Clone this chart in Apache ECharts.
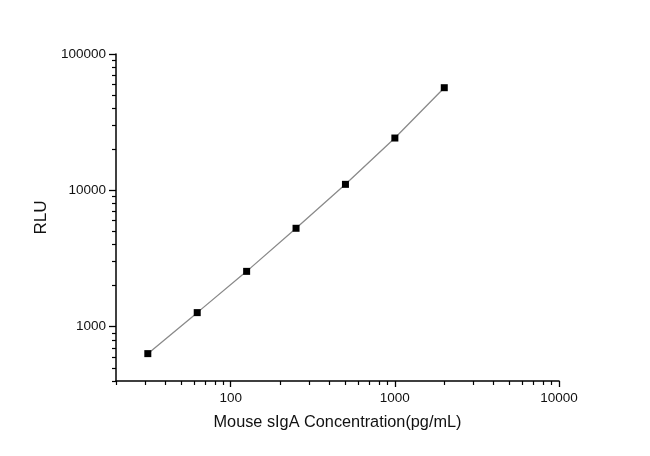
<!DOCTYPE html>
<html>
<head>
<meta charset="utf-8">
<script src="https://cdn.jsdelivr.net/npm/echarts@6/dist/echarts.min.js"></script>
<style>html,body{margin:0;padding:0;background:#fff}#c{width:650px;height:456px}</style>
</head>
<body>
<div id="c"></div>
<script>
const concentrations = [31.25, 62.5, 125, 250, 500, 1000, 2000];
const rluValues = [635, 1269, 2547, 5272, 11070, 24200, 56600];
const xMajorTicks = [100, 1000, 10000];
const xMinorTicks = [20, 30, 40, 50, 60, 70, 80, 90, 200, 300, 400, 500, 600, 700, 800, 900, 2000, 3000, 4000, 5000, 6000, 7000, 8000, 9000];
const yMajorTicks = [1000, 10000, 100000];
const yMinorTicks = [400, 500, 600, 700, 800, 900, 2000, 3000, 4000, 5000, 6000, 7000, 8000, 9000, 20000, 30000, 40000, 50000, 60000, 70000, 80000, 90000];
const xTitle = 'Mouse sIgA Concentration(pg/mL)';
const yTitle = 'RLU';

const font = '"Liberation Sans", Arial, sans-serif';
const chart = echarts.init(document.getElementById('c'));
const baseX = {type: 'log', logBase: 10, min: 20, max: 10000, splitLine: {show: false}, position: 'bottom'};
const baseY = {type: 'log', logBase: 10, min: 400, max: 100000, splitLine: {show: false}, position: 'left'};
const plain = v => String(Math.round(v));
chart.setOption({
  animation: false,
  backgroundColor: '#fff',
  grid: {left: 116, right: 91, top: 54, bottom: 75, containLabel: false},
  xAxis: [
    Object.assign({}, baseX, {
      name: xTitle, nameLocation: 'middle', nameGap: 34,
      nameTextStyle: {fontFamily: font, fontSize: 16.3, color: '#111'},
      axisLine: {show: true, lineStyle: {color: '#000', width: 1.5}},
      axisTick: {show: true, length: 6, lineStyle: {color: '#000', width: 1.3}, customValues: xMajorTicks},
      axisLabel: {show: true, margin: 10, fontFamily: font, fontSize: 13.5, color: '#111', customValues: xMajorTicks, formatter: plain}
    }),
    Object.assign({}, baseX, {
      axisLine: {show: false},
      axisTick: {show: true, length: 4, lineStyle: {color: '#000', width: 1.2}, customValues: xMinorTicks},
      axisLabel: {show: false}
    })
  ],
  yAxis: [
    Object.assign({}, baseY, {
      name: yTitle, nameLocation: 'middle', nameGap: 63, nameRotate: 90,
      nameTextStyle: {fontFamily: font, fontSize: 17, color: '#111'},
      axisLine: {show: true, lineStyle: {color: '#000', width: 1.5}},
      axisTick: {show: true, length: 7, lineStyle: {color: '#000', width: 1.3}, customValues: yMajorTicks},
      axisLabel: {show: true, margin: 10, fontFamily: font, fontSize: 13.5, color: '#111', customValues: yMajorTicks, formatter: plain}
    }),
    Object.assign({}, baseY, {
      axisLine: {show: false},
      axisTick: {show: true, length: 4, lineStyle: {color: '#000', width: 1.2}, customValues: yMinorTicks},
      axisLabel: {show: false}
    })
  ],
  series: [{
    type: 'line',
    xAxisIndex: 0, yAxisIndex: 0,
    data: concentrations.map((c, i) => [c, rluValues[i]]),
    symbol: 'rect', symbolSize: 7,
    itemStyle: {color: '#000'},
    lineStyle: {color: '#8a8a8a', width: 1.3}
  }]
});
</script>
</body>
</html>
